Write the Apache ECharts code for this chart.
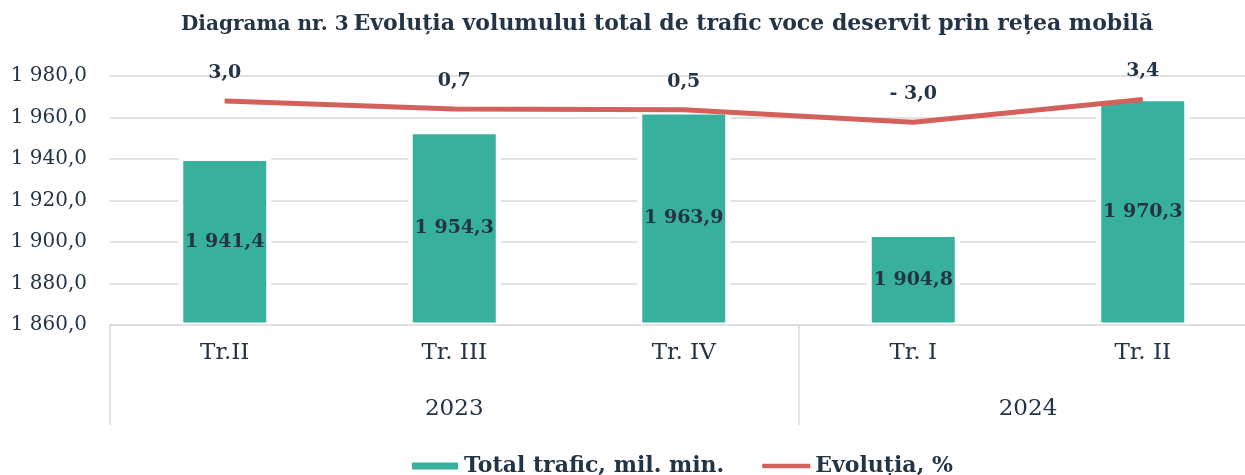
<!DOCTYPE html>
<html>
<head>
<meta charset="utf-8">
<script src="https://cdn.jsdelivr.net/npm/echarts@6/dist/echarts.min.js"></script>
<style>
html,body{margin:0;padding:0;background:#fff;}
#chart{width:1245px;height:475px;}
</style>
</head>
<body>
<div id="chart"></div>
<script>
const quarters = ['Tr.II', 'Tr. III', 'Tr. IV', 'Tr. I', 'Tr. II'];
const yearSlots = ['', '', '', '2023', '', '', '', '', '2024', '', ''];
const yearDividers = [0, 6, 10];
const trafic = [1941.4, 1954.3, 1963.9, 1904.8, 1970.3];
const evolutia = [3.0, 0.7, 0.5, -3.0, 3.4];
const yTicks = { min: 1860, max: 1980, interval: 20 };

const TXT = '#233446';
const FONT = 'DejaVu Serif';
const GRID = '#d9d9d9';
const RED = '#D4605B';

function fmtNum(v, d) {
  const s = Math.abs(v).toFixed(d).split('.');
  const int = s[0].replace(/\B(?=(\d{3})+(?!\d))/g, ' ');
  return (v < 0 ? '- ' : '') + int + ',' + s[1];
}

const chart = echarts.init(document.getElementById('chart'));
chart.setOption({
  backgroundColor: '#fff',
  animation: false,
  title: {
    left: 176, top: 8,
    text: '{b|Diagrama nr. 3} {n|Evoluția volumului total de trafic voce deservit prin rețea mobilă}',
    textStyle: {
      rich: {
        b: { fontFamily: FONT, fontSize: 20, fontWeight: 'bold', color: TXT, verticalAlign: 'bottom' },
        n: { fontFamily: FONT, fontSize: 22, color: TXT, verticalAlign: 'bottom' }
      }
    }
  },
  legend: {
    top: 450, left: 405,
    itemWidth: 48, itemHeight: 9, itemGap: 38,
    textStyle: { fontFamily: FONT, fontSize: 22, fontWeight: 'bold', color: TXT },
    data: [
      { name: 'Total trafic, mil. min.', icon: 'rect' },
      { name: 'Evoluția, %', icon: 'path://M0 0 M0 2 L56 2 L56 7 L0 7 Z M56 9', itemStyle: { color: RED } }
    ]
  },
  grid: { left: 110, width: 1147.5, top: 76, height: 249, containLabel: false, outerBoundsMode: 'none' },
  xAxis: [
    {
      type: 'category', data: quarters, z: 5,
      axisLine: { show: true, onZero: false, lineStyle: { color: GRID, width: 1.5 } },
      axisTick: { show: false },
      axisLabel: { margin: 17, fontFamily: FONT, fontSize: 23, color: TXT, interval: 0 }
    },
    {
      type: 'category', data: yearSlots, position: 'bottom', offset: 100,
      boundaryGap: false, z: 5,
      axisLine: { show: false, onZero: false },
      axisTick: {
        show: true, inside: true, length: 100,
        interval: function (i) { return yearDividers.indexOf(i) >= 0; },
        lineStyle: { color: GRID, width: 1.5 }
      },
      axisLabel: { inside: true, margin: 4, interval: 0, fontFamily: FONT, fontSize: 23, color: TXT }
    }
  ],
  yAxis: [
    {
      type: 'value', min: yTicks.min, max: yTicks.max, interval: yTicks.interval,
      axisLine: { show: false }, axisTick: { show: false },
      splitLine: { lineStyle: { color: GRID, width: 1.5 } },
      axisLabel: { margin: 23, fontFamily: FONT, fontSize: 20, color: TXT,
        formatter: function (v) { return fmtNum(v, 1); } }
    },
    {
      type: 'value', min: -60, max: 10, show: false,
      axisLine: { show: false, onZero: false },
      splitLine: { show: false }
    }
  ],
  series: [
    {
      name: 'Total trafic, mil. min.', type: 'bar', xAxisIndex: 0, yAxisIndex: 0,
      data: trafic, barWidth: 93,
      itemStyle: { color: '#38B09E', borderColor: '#ffffff', borderWidth: 5 },
      label: {
        show: true, position: 'inside',
        fontFamily: FONT, fontSize: 19, fontWeight: 'bold', color: TXT,
        formatter: function (p) { return fmtNum(p.value, 1); }
      }
    },
    {
      name: 'Evoluția, %', type: 'line', xAxisIndex: 0, yAxisIndex: 1,
      data: evolutia, showSymbol: true, symbol: 'circle', symbolSize: 1, z: 4,
      lineStyle: { color: RED, width: 5 },
      itemStyle: { color: RED },
      label: {
        show: true, position: 'top', distance: 18,
        fontFamily: FONT, fontSize: 19, fontWeight: 'bold', color: TXT,
        formatter: function (p) { return fmtNum(p.value, 1); }
      }
    }
  ]
});
</script>
</body>
</html>
